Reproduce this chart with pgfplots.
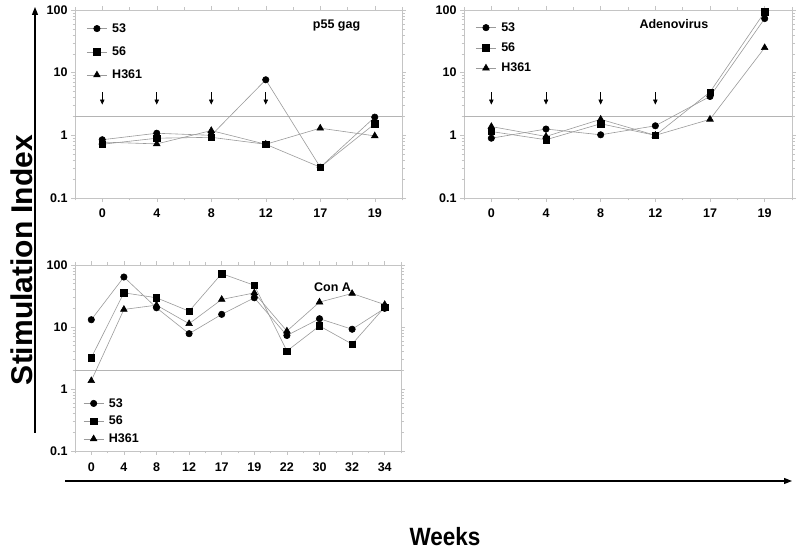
\documentclass[border=0pt]{standalone}
\usepackage{fontspec}
\setmainfont{Liberation Sans}
\usepackage{graphicx}
\usepackage{pgfplots}
\pgfplotsset{compat=1.18}
\usetikzlibrary{arrows.meta}
\definecolor{framegray}{HTML}{C4C4C4}
\definecolor{linegray}{HTML}{9A9A9A}
\definecolor{threshgray}{HTML}{B4B4B4}
\newcommand{\fs}[1]{\fontsize{#1}{#1}\selectfont}

\tikzset{arr/.style={black, line width=0.6pt, -{Triangle[length=5pt, width=4.5pt]}}}

\pgfplotsset{
  legend image code/.code={\draw[mark repeat=2, mark phase=2, #1] plot coordinates {(0pt,0pt)(10pt,0pt)(20pt,0pt)};},
  s53/.style={linegray, line width=0.6pt, mark=*, mark size=3.2pt, mark options={draw=black, fill=black, solid}},
  s56/.style={linegray, line width=0.6pt, mark=square*, mark size=3.2pt, mark options={draw=black, fill=black, solid}},
  sH/.style={linegray, line width=0.6pt, mark=triangle*, mark size=3.8pt, mark options={draw=black, fill=black, solid}},
  thr/.style={threshgray, line width=0.6pt, forget plot},
}

\begin{document}
\begin{tikzpicture}
\path[use as bounding box] (0pt,0pt) rectangle (800pt,551pt);

% ---------------- p55 gag ----------------
\begin{axis}[scale only axis, at={(75pt,541pt)}, anchor=north west, width=327pt, height=188pt,
  ymode=log, ymin=0.1, ymax=100,
  ytick={0.1,1,10,100}, yticklabels={0.1,1,10,100},
  axis line style={framegray, line width=0.7pt},
  tick style={framegray, line width=0.5pt},
  tick align=outside, major tick length=4pt, minor tick length=2.5pt,
  tick label style={font=\bfseries\fs{12.5}},
  xticklabel style={yshift=-3pt},
  xmin=-0.5, xmax=5.5, xtick={0,...,5}, xticklabels={0,4,8,12,17,19},
  minor xtick={-0.5,0.5,...,5.5},
  legend cell align=left,
  legend style={draw=none, fill=none, inner sep=0pt, font=\bfseries\fs{12.5}, row sep=9pt,
    column sep=3pt, nodes={inner xsep=2pt},
    at={(0.035,0.94)}, anchor=north west}]
\addplot[thr] coordinates {(-0.5,2) (5.5,2)};
\addplot[s53] coordinates {(0,0.85) (1,1.08) (2,1.0) (3,7.7) (4,0.31) (5,1.95)};
\addplot[s56] coordinates {(0,0.72) (1,0.9) (2,0.93) (3,0.72) (4,0.31) (5,1.53)};
\addplot[sH] coordinates {(0,0.78) (1,0.73) (2,1.19) (3,0.72) (4,1.3) (5,0.98)};
\legend{53,56,H361}
\pgfplotsinvokeforeach{0,1,2,3}{\draw[arr] (axis cs:#1,4.9) -- (axis cs:#1,3.1);}
\node[font=\bfseries\fs{12.5}] at (rel axis cs:0.80,0.915) {p55 gag};
\end{axis}

% ---------------- Adenovirus ----------------
\begin{axis}[scale only axis, at={(464pt,541pt)}, anchor=north west, width=328pt, height=188pt,
  ymode=log, ymin=0.1, ymax=100,
  ytick={0.1,1,10,100}, yticklabels={0.1,1,10,100},
  axis line style={framegray, line width=0.7pt},
  tick style={framegray, line width=0.5pt},
  tick align=outside, major tick length=4pt, minor tick length=2.5pt,
  tick label style={font=\bfseries\fs{12.5}},
  xticklabel style={yshift=-3pt},
  xmin=-0.5, xmax=5.5, xtick={0,...,5}, xticklabels={0,4,8,12,17,19},
  minor xtick={-0.5,0.5,...,5.5},
  legend cell align=left,
  legend style={draw=none, fill=none, inner sep=0pt, font=\bfseries\fs{12.5}, row sep=6pt,
    column sep=3pt, nodes={inner xsep=2pt},
    at={(0.035,0.945)}, anchor=north west}]
\addplot[thr] coordinates {(-0.5,2) (5.5,2)};
\addplot[s53] coordinates {(0,0.9) (1,1.26) (2,1.02) (3,1.42) (4,4.17) (5,73)};
\addplot[s56] coordinates {(0,1.15) (1,0.85) (2,1.53) (3,1.0) (4,4.9) (5,93)};
\addplot[sH] coordinates {(0,1.38) (1,0.96) (2,1.8) (3,1.0) (4,1.8) (5,25)};
\legend{53,56,H361}
\pgfplotsinvokeforeach{0,1,2,3}{\draw[arr] (axis cs:#1,4.9) -- (axis cs:#1,3.1);}
\node[font=\bfseries\fs{12.5}] at (rel axis cs:0.64,0.925) {Adenovirus};
\end{axis}

% ---------------- Con A ----------------
\begin{axis}[scale only axis, at={(75pt,286pt)}, anchor=north west, width=326pt, height=186pt,
  ymode=log, ymin=0.1, ymax=100,
  ytick={0.1,1,10,100}, yticklabels={0.1,1,10,100},
  axis line style={framegray, line width=0.7pt},
  tick style={framegray, line width=0.5pt},
  tick align=outside, major tick length=4pt, minor tick length=2.5pt,
  tick label style={font=\bfseries\fs{12.5}},
  xticklabel style={yshift=-4pt},
  xmin=-0.5, xmax=9.5, xtick={0,...,9}, xticklabels={0,4,8,12,17,19,22,30,32,34},
  minor xtick={-0.5,0.5,...,9.5},
  legend cell align=left,
  legend style={draw=none, fill=none, inner sep=0pt, font=\bfseries\fs{12.5}, row sep=3.5pt,
    column sep=3pt, nodes={inner xsep=2pt},
    at={(0.025,0.295)}, anchor=north west}]
\addplot[thr] coordinates {(-0.5,2) (9.5,2)};
\addplot[s53] coordinates {(0,13.1) (1,64) (2,20.4) (3,7.8) (4,16) (5,29.6) (6,7.3) (7,13.6) (8,9.2) (9,20)};
\addplot[s56] coordinates {(0,3.2) (1,35.6) (2,29.6) (3,18) (4,72.6) (5,47) (6,4.1) (7,10.4) (8,5.3) (9,20.9)};
\addplot[sH] coordinates {(0,1.36) (1,19.2) (2,22.5) (3,11.3) (4,27.8) (5,35.5) (6,8.6) (7,25.2) (8,34.7) (9,23)};
\legend{53,56,H361}
\node[font=\bfseries\fs{12.5}] at (rel axis cs:0.79,0.88) {Con A};
\end{axis}

% ---------------- outer axes ----------------
\draw[line width=1.3pt, -{Triangle[length=8pt, width=6pt]}] (35pt,118pt) -- (35pt,544pt);
\draw[line width=1.3pt, -{Triangle[length=8pt, width=6pt]}] (65pt,70pt) -- (792pt,70pt);
\node[rotate=90, font=\bfseries\fs{30}] at (22pt,291pt) {Stimulation Index};
\node[font=\bfseries\fs{25}] at (445pt,14pt) {\scalebox{0.9}[1]{Weeks}};
\end{tikzpicture}
\end{document}
